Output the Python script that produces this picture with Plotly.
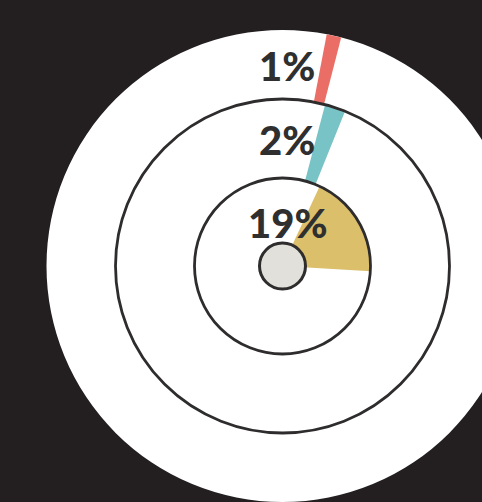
import numpy as np
import plotly.graph_objects as go

# Data
labels = ["1%", "2%", "19%"]
values = [1, 2, 19]            # percent
colors = ["#ea6e66", "#78c3c5", "#dcbf6b"]

# Styling / geometry (px-scale data units, centre at 0,0)
ring_inner = [167, 88, 0]
ring_outer = [236, 167, 88]
start_deg = [10.8, 14.8, 25.0]   # clockwise from north
BG = "#231f20"
LINE = "#2e2c2c"

fig = go.Figure()

def wedge(r0, r1, a0, span):
    a = np.radians(np.linspace(a0, a0 + span, 80))
    xo, yo = r1 * np.sin(a), r1 * np.cos(a)
    if r0 > 0:
        xi, yi = r0 * np.sin(a[::-1]), r0 * np.cos(a[::-1])
    else:
        xi, yi = np.array([0.0]), np.array([0.0])
    return np.concatenate([xo, xi, xo[:1]]), np.concatenate([yo, yi, yo[:1]])

for lab, v, c, r0, r1, a0 in zip(labels, values, colors, ring_inner, ring_outer, start_deg):
    x, y = wedge(r0, r1, a0, v * 3.6)
    fig.add_trace(go.Scatter(x=x, y=y, fill="toself", fillcolor=c, mode="lines",
                             line=dict(width=0, color=c), hoverinfo="skip", showlegend=False))
    fig.add_annotation(x=4.5, y=(r0 + r1) / 2, text=lab, showarrow=False,
                       font=dict(family="Lato", size=40, color="#2f2f2f", weight=900),
                       xanchor="center", yanchor="middle", yshift=-1)

shapes = [
    dict(type="circle", xref="x", yref="y", x0=-236, y0=-236, x1=236, y1=236,
         fillcolor="white", line=dict(width=0), layer="below"),
    dict(type="circle", xref="x", yref="y", x0=-167, y0=-167, x1=167, y1=167,
         line=dict(color=LINE, width=2.8), layer="above"),
    dict(type="circle", xref="x", yref="y", x0=-88, y0=-88, x1=88, y1=88,
         line=dict(color=LINE, width=2.8), layer="above"),
    dict(type="circle", xref="x", yref="y", x0=-23, y0=-23, x1=23, y1=23,
         fillcolor="#e1e0db", line=dict(color=LINE, width=3), layer="above"),
]

fig.update_layout(
    width=482, height=502, margin=dict(l=0, r=0, t=0, b=0),
    paper_bgcolor=BG, plot_bgcolor=BG, shapes=shapes,
    xaxis=dict(range=[-282.5, 199.5], visible=False, fixedrange=True),
    yaxis=dict(range=[-236, 266], visible=False, fixedrange=True),
)

fig.write_html("out.html", config=dict(displayModeBar=False),
               post_script="document.body.style.margin='0';document.body.style.background='#231f20';")
